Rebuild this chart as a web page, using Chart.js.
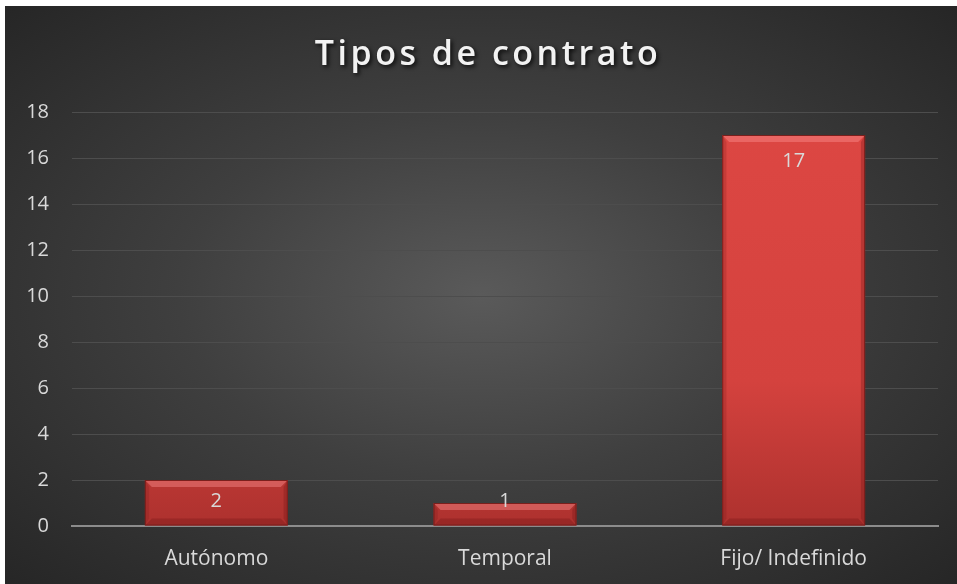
<!DOCTYPE html>
<html lang="es">
<head>
<meta charset="UTF-8">
<title>Tipos de contrato</title>
<script src="https://cdn.jsdelivr.net/npm/chart.js"></script>
<style>
  body { margin: 0; background: #fff; }
  .marco {
    position: absolute; left: 5px; top: 6px; width: 952px; height: 578px;
    background: radial-gradient(ellipse at 50% 50%, #5a5a5a 0%, #3f3f3f 45%, #262626 100%);
  }
</style>
</head>
<body>
<div class="marco"><canvas id="grafico" width="952" height="578"></canvas></div>
<script>
var categorias = ['Autónomo', 'Temporal', 'Fijo/ Indefinido'];
var valores = [2, 1, 17];
var titulo = 'Tipos de contrato';

// titulo con espaciado y sombra
const tituloPlugin = {
  id: 'tituloPlugin',
  afterDraw(chart) {
    const ctx = chart.ctx;
    ctx.save();
    ctx.font = '600 34px "Open Sans"';
    ctx.letterSpacing = '3.5px';
    ctx.fillStyle = '#f2f2f2';
    ctx.textAlign = 'center';
    ctx.textBaseline = 'alphabetic';
    ctx.shadowColor = 'rgba(0,0,0,0.8)';
    ctx.shadowOffsetX = 2;
    ctx.shadowOffsetY = 2;
    ctx.shadowBlur = 4;
    ctx.fillText(titulo, 483, 59);
    ctx.restore();
  }
};

// biselado de las barras + etiquetas
const biselPlugin = {
  id: 'biselPlugin',
  afterDatasetsDraw(chart) {
    const ctx = chart.ctx;
    const meta = chart.getDatasetMeta(0);
    meta.data.forEach(function (bar, i) {
      const l = bar.x - bar.width / 2, r = bar.x + bar.width / 2;
      const t = bar.y, b = bar.base;
      const s = Math.min(7, (b - t) / 2);
      ctx.save();
      ctx.fillStyle = 'rgba(255,150,150,0.4)';
      ctx.beginPath();
      ctx.moveTo(l, t); ctx.lineTo(r, t); ctx.lineTo(r - s, t + s); ctx.lineTo(l + s, t + s); ctx.closePath();
      ctx.fill();
      ctx.fillStyle = 'rgba(110,20,20,0.3)';
      ctx.beginPath();
      ctx.moveTo(r, t); ctx.lineTo(r, b); ctx.lineTo(r - s * 0.6, b - s); ctx.lineTo(r - s * 0.6, t + s); ctx.closePath();
      ctx.fill();
      ctx.fillStyle = 'rgba(110,20,20,0.2)';
      ctx.beginPath();
      ctx.moveTo(l, t); ctx.lineTo(l, b); ctx.lineTo(l + s * 0.6, b - s); ctx.lineTo(l + s * 0.6, t + s); ctx.closePath();
      ctx.fill();
      ctx.fillStyle = 'rgba(90,10,10,0.25)';
      ctx.beginPath();
      ctx.moveTo(l, b); ctx.lineTo(r, b); ctx.lineTo(r - s, b - s); ctx.lineTo(l + s, b - s); ctx.closePath();
      ctx.fill();
      ctx.strokeStyle = '#7a1f1c';
      ctx.lineWidth = 1;
      ctx.strokeRect(l + 0.5, t + 0.5, r - l - 1, b - t - 1);
      // etiqueta
      ctx.font = '20px "Open Sans"';
      ctx.fillStyle = '#d9d9d9';
      ctx.textAlign = 'center';
      ctx.textBaseline = 'middle';
      ctx.fillText(String(valores[i]), bar.x, Math.min(t + 26, b - 24));
      ctx.restore();
    });
  }
};

const ctx = document.getElementById('grafico');

new Chart(ctx, {
  type: 'bar',
  data: {
    labels: categorias,
    datasets: [{
      data: valores,
      borderWidth: 0,
      backgroundColor: function (c) {
        const ca = c.chart.chartArea;
        if (!ca) return '#d64541';
        const g = c.chart.ctx.createLinearGradient(0, ca.top, 0, ca.bottom);
        g.addColorStop(0, '#dd4743');
        g.addColorStop(0.65, '#d4423e');
        g.addColorStop(1, '#ad312e');
        return g;
      },
      categoryPercentage: 1,
      barPercentage: 0.495
    }]
  },
  options: {
    responsive: false,
    animation: false,
    layout: { padding: { top: 106, right: 19, left: 0, bottom: 0 } },
    scales: {
      x: {
        grid: { display: false },
        border: { display: true, color: '#8c8c8c', width: 2 },
        ticks: { color: '#d9d9d9', font: { family: 'Open Sans', size: 21 }, padding: 12 },
        afterFit: function (s) { s.height = 58; }
      },
      y: {
        min: 0, max: 18,
        grid: { color: '#4d4d4d', lineWidth: 1, drawTicks: false },
        border: { display: false },
        ticks: { stepSize: 2, color: '#d9d9d9', font: { family: 'Open Sans', size: 20 }, padding: 23 },
        afterFit: function (s) { s.width = 67; }
      }
    },
    plugins: {
      legend: { display: false },
      tooltip: { enabled: false }
    }
  },
  plugins: [biselPlugin, tituloPlugin]
});
</script>
</body>
</html>
